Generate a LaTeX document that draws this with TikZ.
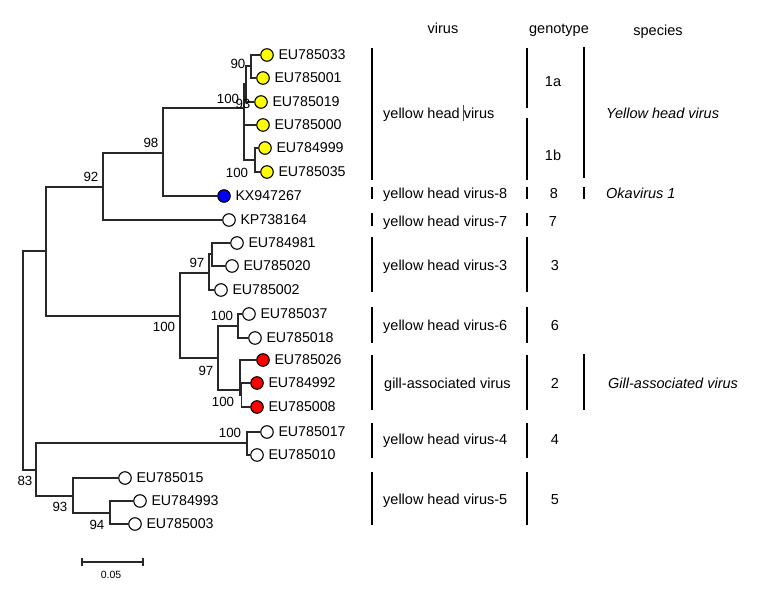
\documentclass[tikz,border=0pt]{standalone}
\usepackage{fontspec}
\setmainfont{Liberation Sans}
\definecolor{yel}{RGB}{255,255,0}
\definecolor{blu}{RGB}{0,0,255}
\definecolor{rd}{RGB}{255,0,0}
\definecolor{br}{RGB}{40,40,40}
\begin{document}
\begin{tikzpicture}[x=1pt,y=-1pt,
  branch/.style={line width=1.3pt, draw=br},
  leaf/.style={circle, draw=black, line width=1.1pt, minimum size=12.5pt, inner sep=0pt},
  leaftext/.style={font=\fontsize{14.2}{15}\selectfont, inner sep=0pt, anchor=west, xshift=4.5pt},
  boot/.style={font=\fontsize{13.3}{14}\selectfont, inner sep=0pt},
  bar/.style={line width=1.8pt, draw=black},
  coltext/.style={font=\fontsize{14.5}{16}\selectfont, inner sep=0pt, anchor=base west},
  gentext/.style={font=\fontsize{14.5}{16}\selectfont, inner sep=0pt, anchor=base},
  sptext/.style={font=\fontsize{14.5}{16}\selectfont\itshape, inner sep=0pt, anchor=base west},
  head/.style={font=\fontsize{14.5}{16}\selectfont, inner sep=0pt, anchor=base}
]
\useasboundingbox (0,0) rectangle (764,600);

% ---------- leaves ----------
\node[leaf, fill=yel, label={[leaftext]0:EU785033}] (L1) at (267,55) {};
\node[leaf, fill=yel, label={[leaftext]0:EU785001}] (L2) at (263,78) {};
\node[leaf, fill=yel, label={[leaftext]0:EU785019}] (L3) at (261,102) {};
\node[leaf, fill=yel, label={[leaftext]0:EU785000}] (L4) at (263,125) {};
\node[leaf, fill=yel, label={[leaftext]0:EU784999}] (L5) at (265,148) {};
\node[leaf, fill=yel, label={[leaftext]0:EU785035}] (L6) at (267,172) {};
\node[leaf, fill=blu, label={[leaftext]0:KX947267}] (L7) at (224,196) {};
\node[leaf, fill=white, label={[leaftext]0:KP738164}] (L8) at (229,220) {};
\node[leaf, fill=white, label={[leaftext]0:EU784981}] (L9) at (237,243) {};
\node[leaf, fill=white, label={[leaftext]0:EU785020}] (L10) at (232,266) {};
\node[leaf, fill=white, label={[leaftext]0:EU785002}] (L11) at (221,290) {};
\node[leaf, fill=white, label={[leaftext]0:EU785037}] (L12) at (249,314) {};
\node[leaf, fill=white, label={[leaftext]0:EU785018}] (L13) at (255,338) {};
\node[leaf, fill=rd, label={[leaftext]0:EU785026}] (L14) at (263,360) {};
\node[leaf, fill=rd, label={[leaftext]0:EU784992}] (L15) at (257,383) {};
\node[leaf, fill=rd, label={[leaftext]0:EU785008}] (L16) at (257,407) {};
\node[leaf, fill=white, label={[leaftext]0:EU785017}] (L17) at (267,432) {};
\node[leaf, fill=white, label={[leaftext]0:EU785010}] (L18) at (257,455) {};
\node[leaf, fill=white, label={[leaftext]0:EU785015}] (L19) at (125,478) {};
\node[leaf, fill=white, label={[leaftext]0:EU784993}] (L20) at (140,501) {};
\node[leaf, fill=white, label={[leaftext]0:EU785003}] (L21) at (135,524) {};

% ---------- internal nodes ----------
\coordinate (r) at (23,360);
\coordinate (nA) at (46,251);
\coordinate (n92) at (103,187);
\coordinate (n98) at (163,153);
\coordinate (n100a) at (244,108);
\coordinate (n93) at (246,84);
\coordinate (n90) at (251,66);
\coordinate (n100b) at (255,160);
\coordinate (n100m) at (180,316);
\coordinate (n97a) at (209,273);
\coordinate (nB) at (212,254);
\coordinate (n97b) at (218,358);
\coordinate (n100c) at (238,326);
\coordinate (n100d) at (240,390);
\coordinate (nE) at (241.5,395);
\coordinate (nC) at (36,470);
\coordinate (n100e) at (247,443);
\coordinate (n93b) at (73,496);
\coordinate (n94) at (110,513);

% ---------- branches ----------
\draw[branch] (r) |- (nA);
\draw[branch] (r) |- (nC);
\draw[branch] (nA) |- (n92);
\draw[branch] (nA) |- (n100m);
\draw[branch] (n92) |- (n98);
\draw[branch] (n92) |- (L8.west);
\draw[branch] (n98) |- (n100a);
\draw[branch] (n98) |- (L7.west);
\draw[branch] (n100a) |- (n93);
\draw[branch] (n100a) |- (L4.west);
\draw[branch] (n100a) |- (n100b);
\draw[branch] (n93) |- (n90);
\draw[branch] (n93) |- (L3.west);
\draw[branch] (n90) |- (L1.west);
\draw[branch] (n90) |- (L2.west);
\draw[branch] (n100b) |- (L5.west);
\draw[branch] (n100b) |- (L6.west);
\draw[branch] (n100m) |- (n97a);
\draw[branch] (n100m) |- (n97b);
\draw[branch] (n97a) |- (nB);
\draw[branch] (n97a) |- (L11.west);
\draw[branch] (nB) |- (L9.west);
\draw[branch] (nB) |- (L10.west);
\draw[branch] (n97b) |- (n100c);
\draw[branch] (n97b) |- (n100d);
\draw[branch] (n100c) |- (L12.west);
\draw[branch] (n100c) |- (L13.west);
\draw[branch] (n100d) |- (L14.west);
\draw[branch] (n100d) |- (nE);
\draw[branch] (nE) |- (L15.west);
\draw[branch] (nE) |- (L16.west);
\draw[branch] (nC) |- (n100e);
\draw[branch] (nC) |- (n93b);
\draw[branch] (n100e) |- (L17.west);
\draw[branch] (n100e) |- (L18.west);
\draw[branch] (n93b) |- (L19.west);
\draw[branch] (n93b) |- (n94);
\draw[branch] (n94) |- (L20.west);
\draw[branch] (n94) |- (L21.west);

% ---------- bootstrap values ----------
\node[boot] (b90) at (238,64) {90};
\node[boot] (b100a) at (228,99) {100};
\node[boot] (b93) at (243,104) {93};
\node[boot] (b100b) at (237,173) {100};
\node[boot] (b98) at (151,143) {98};
\node[boot] (b92) at (91,177) {92};
\node[boot] (b100m) at (164,327) {100};
\node[boot] (b97a) at (197,263) {97};
\node[boot] (b100c) at (222,316) {100};
\node[boot] (b97b) at (206,371) {97};
\node[boot] (b100d) at (223,402) {100};
\node[boot] (b100e) at (230,433) {100};
\node[boot] (b83) at (25,481) {83};
\node[boot] (b93b) at (60,507) {93};
\node[boot] (b94) at (97,525) {94};

% ---------- scale bar ----------
\coordinate (s1) at (82,562);
\coordinate (s2) at (143,562);
\draw[line width=1.3pt, draw=br] (s1) -- (s2);
\draw[line width=1.3pt, draw=br] ([yshift=4pt]s1) -- ([yshift=-4pt]s1);
\draw[line width=1.3pt, draw=br] ([yshift=4pt]s2) -- ([yshift=-4pt]s2);
\node[font=\fontsize{10.5}{12}\selectfont, inner sep=0pt] (sbl) at (111,575) {0.05};

% ---------- headers ----------
\node[head] (hv) at (443,33) {virus};
\node[head] (hg) at (559,33) {genotype};
\node[head] (hs) at (658,35) {species};

% ---------- virus column ----------
\draw[bar] (372,48) -- (372,180);
\draw[bar] (372,187) -- (372,199);
\draw[bar] (372,213) -- (372,226);
\draw[bar] (372,237) -- (372,292);
\draw[bar] (372,307) -- (372,343);
\draw[bar] (372,355) -- (372,410);
\draw[bar] (372,423) -- (372,458);
\draw[bar] (372,472) -- (372,525);
\node[coltext] (v1) at (383,118) {yellow head virus};
\draw[line width=0.6pt, draw=black!70] (463.5,105) -- (463.5,121);
\node[coltext] (v8) at (383,198) {yellow head virus-8};
\node[coltext] (v7) at (383,226) {yellow head virus-7};
\node[coltext] (v3) at (383,270) {yellow head virus-3};
\node[coltext] (v6) at (383,330) {yellow head virus-6};
\node[coltext] (v2) at (384,388) {gill-associated virus};
\node[coltext] (v4) at (383,444) {yellow head virus-4};
\node[coltext] (v5) at (383,504) {yellow head virus-5};

% ---------- genotype column ----------
\draw[bar] (527,48) -- (527,108);
\draw[bar] (527,118) -- (527,180);
\draw[bar] (527,187) -- (527,199);
\draw[bar] (527,213) -- (527,226);
\draw[bar] (527,237) -- (527,292);
\draw[bar] (527,307) -- (527,343);
\draw[bar] (527,355) -- (527,410);
\draw[bar] (527,423) -- (527,458);
\draw[bar] (527,472) -- (527,525);
\node[gentext] (g1a) at (553,86) {1a};
\node[gentext] (g1b) at (553,160) {1b};
\node[gentext] (g8) at (554,198) {8};
\node[gentext] (g7) at (553,226) {7};
\node[gentext] (g3) at (555,270) {3};
\node[gentext] (g6) at (555,330) {6};
\node[gentext] (g2) at (555,388) {2};
\node[gentext] (g4) at (555,444) {4};
\node[gentext] (g5) at (555,504) {5};

% ---------- species column ----------
\draw[bar] (584,47) -- (584,178);
\draw[bar] (584,187) -- (584,199);
\draw[bar] (584,354) -- (584,410);
\node[sptext] (s1t) at (606,118) {Yellow head virus};
\node[sptext] (s2t) at (606,198) {Okavirus 1};
\node[sptext] (s3t) at (608,388) {Gill-associated virus};
\end{tikzpicture}
\end{document}
